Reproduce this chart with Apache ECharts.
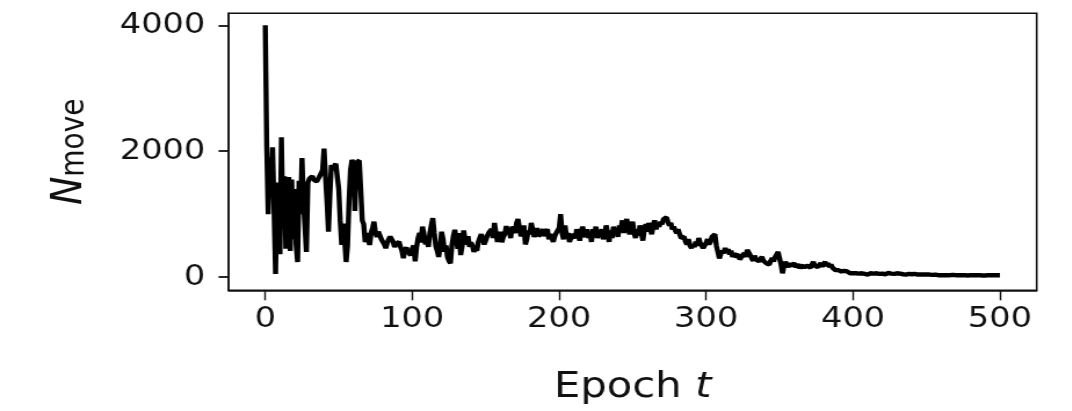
<!DOCTYPE html>
<html><head><meta charset="utf-8">
<script src="https://cdn.jsdelivr.net/npm/echarts@6/dist/echarts.min.js"></script>
<style>
html,body{margin:0;padding:0;background:#fff;overflow:hidden}
#wrap{width:1072px;height:411px;overflow:hidden}
#chart{width:924px;height:411px;transform:scaleX(1.16);transform-origin:0 0}
</style>
</head><body><div id="wrap"><div id="chart"></div></div>
<script>
// N_move per epoch (epoch = index, 0..500)
const nMove = [
4000,2080,1000,1900,1300,2060,1050,50,1500,600,
365,2220,800,1600,450,1450,1590,415,1550,600,
1400,520,240,1530,1000,1890,1200,800,400,1500,
1560,1530,1600,1550,1580,1520,1560,1600,1580,1700,
2040,1600,1200,720,1300,1780,1700,1760,1800,1830,
1400,900,510,850,600,240,500,1200,1700,1860,
1800,1050,1820,1840,1850,1860,900,840,555,700,
620,510,700,780,880,700,640,720,750,600,
560,520,460,540,600,640,620,560,480,520,
510,560,480,420,300,430,470,400,380,350,
450,500,250,480,620,700,550,800,680,520,
600,480,700,820,935,700,500,420,320,480,
720,600,400,500,320,260,220,500,650,750,
600,450,700,350,500,740,600,520,650,480,
550,500,400,460,420,560,620,680,600,520,
580,650,700,720,760,620,860,700,560,650,
720,555,640,680,810,700,740,620,800,760,
700,860,920,780,650,700,820,520,600,740,
680,860,760,640,700,780,650,620,700,760,
650,720,760,600,680,620,560,650,700,720,
780,1000,700,600,820,640,700,560,620,680,
700,620,760,680,580,720,800,680,640,760,
620,700,560,760,680,800,620,700,660,760,
600,680,820,700,560,740,620,800,700,760,
640,820,760,900,700,860,920,780,680,760,
880,700,620,760,660,820,700,580,760,840,
720,860,760,680,820,900,760,860,800,880,
840,920,900,950,880,820,860,760,800,740,
700,760,680,620,590,640,560,520,600,500,
460,520,480,560,500,620,540,500,460,480,
540,600,520,560,640,660,680,500,400,300,
360,420,380,460,400,440,360,420,320,380,
320,300,360,280,320,340,380,320,430,400,
350,300,260,340,280,300,250,270,320,260,
270,220,240,200,260,300,250,320,360,400,
300,200,60,180,240,200,160,220,180,200,
220,160,180,200,140,180,200,160,190,180,
190,150,200,240,180,200,160,180,220,170,
200,240,180,220,160,200,150,130,110,120,
110,100,90,120,100,80,90,70,60,80,
60,70,60,50,55,45,60,40,50,45,
40,50,60,45,55,50,60,45,50,40,
55,60,45,50,65,70,55,60,50,45,
60,70,55,50,45,50,40,45,50,40,
45,40,50,35,40,45,40,35,40,35,
40,35,40,45,35,30,40,35,30,35,
30,35,30,40,30,35,30,25,35,30,
30,35,30,25,30,35,30,30,25,30,
30,25,30,35,30,25,30,30,25,30,
25,30,30,25,30,25,30,25,30,25,
30
];
const xTicks = [0, 100, 200, 300, 400, 500];
const yTicks = [0, 2000, 4000];
const xName = 'Epoch ';
const xNameVar = 't';
const yNameMain = 'N';
const yNameSub = 'move';

const seriesData = nMove.map((v, i) => [i, v]);
const FONT = 'DejaVu Sans';
const TXT = '#111';
const plain = v => String(v);

const chart = echarts.init(document.getElementById('chart'), null, {renderer: 'canvas'});
chart.setOption({
  animation: false,
  backgroundColor: '#fff',
  grid: {left: 197, top: 13.3, width: 696.7, height: 277, show: true,
         borderColor: '#111', borderWidth: 1.6, backgroundColor: 'transparent'},
  xAxis: {
    type: 'value', min: -25, max: 525,
    axisLine: {show: true, onZero: false, lineStyle: {color: '#111', width: 1.6}},
    axisTick: {show: true, inside: false, customValues: xTicks, length: 10, lineStyle: {color: '#111', width: 1.4}},
    axisLabel: {customValues: xTicks, formatter: plain, fontFamily: FONT, fontSize: 29, color: TXT, margin: 15},
    splitLine: {show: false},
    name: '{a|' + xName + '}{b|' + xNameVar + '}',
    nameLocation: 'middle', nameGap: 79,
    nameTextStyle: {rich: {
      a: {fontFamily: FONT, fontSize: 36, color: TXT, lineHeight: 36},
      b: {fontFamily: FONT, fontSize: 36, fontStyle: 'italic', color: TXT, lineHeight: 36}
    }}
  },
  yAxis: {
    type: 'value', min: -210, max: 4190,
    axisLine: {show: true, onZero: false, lineStyle: {color: '#111', width: 1.6}},
    axisTick: {show: true, inside: false, customValues: yTicks, length: 8.6, lineStyle: {color: '#111', width: 1.8}},
    axisLabel: {customValues: yTicks, formatter: plain, fontFamily: FONT, fontSize: 29, color: TXT, margin: 20, padding: [14, 0, 0, 0]},
    splitLine: {show: false},
    name: '{n|' + yNameMain + '}{s|' + yNameSub + '}',
    nameLocation: 'middle', nameGap: 118,
    nameTextStyle: {rich: {
      n: {fontFamily: FONT, fontSize: 38, fontStyle: 'italic', color: TXT, lineHeight: 38},
      s: {fontFamily: FONT, fontSize: 28, color: TXT, lineHeight: 20, verticalAlign: 'bottom'}
    }}
  },
  series: [{
    type: 'line', data: seriesData, showSymbol: false, symbol: 'none',
    lineStyle: {color: '#000', width: 4.4}, clip: true
  }]
});
</script>
</body></html>
